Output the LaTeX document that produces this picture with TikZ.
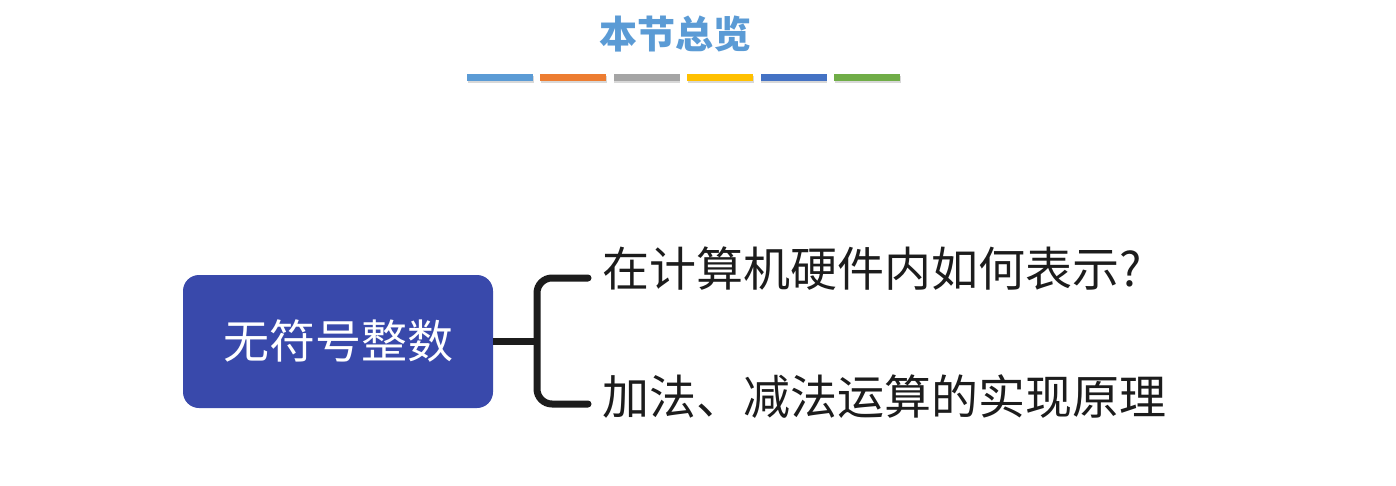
\documentclass[tikz,border=0pt]{standalone}
\usepackage{fontspec}
\setmainfont{Noto Sans CJK SC}
\usetikzlibrary{positioning,shadows,calc}
\definecolor{lblue}{RGB}{91, 155, 213}
\definecolor{lorange}{RGB}{237, 125, 49}
\definecolor{lgray}{RGB}{165, 165, 165}
\definecolor{lyellow}{RGB}{255, 192, 0}
\definecolor{dblue}{RGB}{68, 114, 196}
\definecolor{lgreen}{RGB}{112, 173, 71}
\definecolor{indigo}{RGB}{57, 73, 171}
\definecolor{ink}{RGB}{28, 28, 28}
\tikzstyle{bar} = [rectangle, inner sep=0pt, minimum width=66pt, minimum height=7pt,
  drop shadow={shadow xshift=0.5pt, shadow yshift=-2pt, opacity=0.3}]
\tikzstyle{topic} = [rectangle, fill=indigo, text=white, rounded corners=16pt,
  minimum width=310pt, minimum height=133pt, font=\fontsize{46}{56}\selectfont]
\tikzstyle{item} = [inner sep=0pt, text=ink, text height=0.88em, text depth=0.12em,
  font=\fontsize{47}{56}\selectfont]
\tikzstyle{line} = [draw, line width=7pt, color=ink]
\begin{document}
\begin{tikzpicture}[x=1pt,y=-1pt]
  \useasboundingbox[fill=white] (0,0) rectangle (1396,486);

  %%%%%%%%%%%%%%%%%%%%%%%%%%%%%%%%%%%%%%%%%%%%%%%%%%%%%%%%%%%%%%
  %                   TITLE AND COLOUR BARS                    %
  %%%%%%%%%%%%%%%%%%%%%%%%%%%%%%%%%%%%%%%%%%%%%%%%%%%%%%%%%%%%%%

  \node [text=lblue, font=\fontsize{38}{46}\selectfont\bfseries] at (675,34) (title) {本节总览};
  \node [bar, fill=lblue] at (500,77.5) (bar-blue) {};
  \node [bar, fill=lorange, right = 7pt of bar-blue] (bar-orange) {};
  \node [bar, fill=lgray, right = 7pt of bar-orange] (bar-gray) {};
  \node [bar, fill=lyellow, right = 7pt of bar-gray] (bar-yellow) {};
  \node [bar, fill=dblue, right = 7pt of bar-yellow] (bar-dblue) {};
  \node [bar, fill=lgreen, right = 7pt of bar-dblue] (bar-green) {};

  %%%%%%%%%%%%%%%%%%%%%%%%%%%%%%%%%%%%%%%%%%%%%%%%%%%%%%%%%%%%%%
  %                   UNSIGNED INTEGERS                        %
  %%%%%%%%%%%%%%%%%%%%%%%%%%%%%%%%%%%%%%%%%%%%%%%%%%%%%%%%%%%%%%

  \node [topic] at (338,341.5) (unsigned) {无符号整数};
  \node [item, anchor=west] at (602,283) (repr) {在计算机硬件内如何表示?};
  \node [item, anchor=west] at (602,411) (arith) {加法、减法运算的实现原理};
  \coordinate (fork) at (537,341.5);
  \draw[line] (unsigned.east) -- (fork);
  \draw[line, line cap=round, rounded corners=15pt]
    ([xshift=-14pt,yshift=5pt]repr.west) -| (fork) |- ([xshift=-14pt,yshift=7pt]arith.west);

\end{tikzpicture}
\end{document}
